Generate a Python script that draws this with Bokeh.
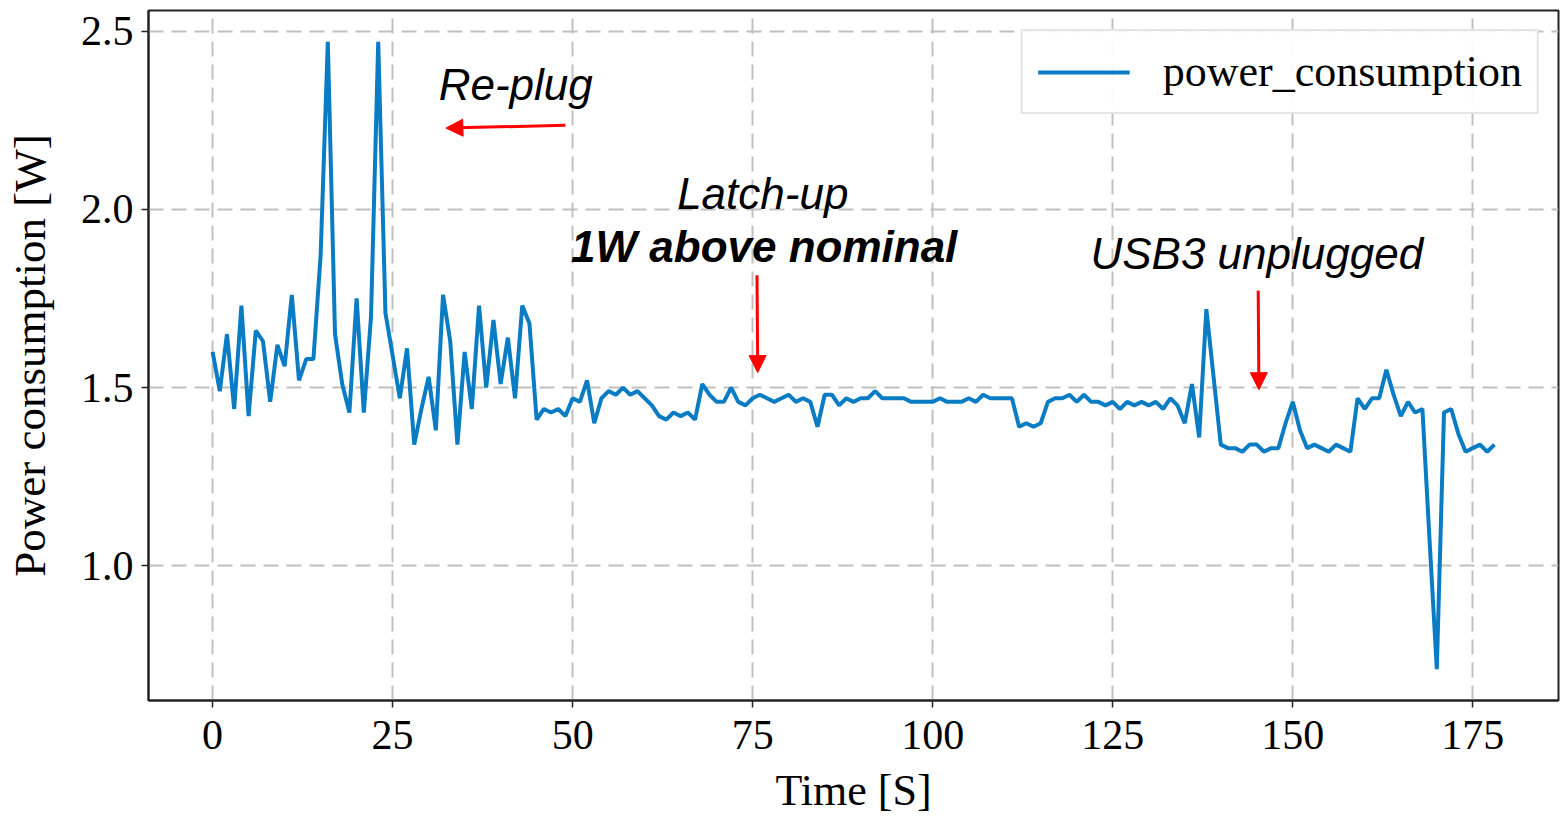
from bokeh.plotting import figure
from bokeh.models import (ColumnDataSource, Legend, LegendItem, Label, Arrow,
                          NormalHead, FixedTicker, NumeralTickFormatter, Range1d)
from bokeh.embed import file_html
from bokeh.resources import INLINE

# ---- data ----
time_s = list(range(179))
power_w = [
    1.60, 1.49, 1.65, 1.44, 1.73, 1.42, 1.66, 1.63, 1.46, 1.62,
    1.56, 1.76, 1.52, 1.58, 1.58, 1.87, 2.47, 1.65, 1.51, 1.43,
    1.75, 1.43, 1.70, 2.47, 1.71, 1.59, 1.47, 1.61, 1.34, 1.44,
    1.53, 1.38, 1.76, 1.63, 1.34, 1.60, 1.44, 1.73, 1.50, 1.69,
    1.51, 1.64, 1.47, 1.73, 1.68, 1.41, 1.44, 1.43, 1.44, 1.42,
    1.47, 1.46, 1.52, 1.40, 1.47, 1.49, 1.48, 1.50, 1.48, 1.49,
    1.47, 1.45, 1.42, 1.41, 1.43, 1.42, 1.43, 1.41, 1.51, 1.48,
    1.46, 1.46, 1.50, 1.46, 1.45, 1.47, 1.48, 1.47, 1.46, 1.47,
    1.48, 1.46, 1.47, 1.46, 1.39, 1.48, 1.48, 1.45, 1.47, 1.46,
    1.47, 1.47, 1.49, 1.47, 1.47, 1.47, 1.47, 1.46, 1.46, 1.46,
    1.46, 1.47, 1.46, 1.46, 1.46, 1.47, 1.46, 1.48, 1.47, 1.47,
    1.47, 1.47, 1.39, 1.40, 1.39, 1.40, 1.46, 1.47, 1.47, 1.48,
    1.46, 1.48, 1.46, 1.46, 1.45, 1.46, 1.44, 1.46, 1.45, 1.46,
    1.45, 1.46, 1.44, 1.47, 1.45, 1.40, 1.51, 1.36, 1.72, 1.53,
    1.34, 1.33, 1.33, 1.32, 1.34, 1.34, 1.32, 1.33, 1.33, 1.40,
    1.46, 1.38, 1.33, 1.34, 1.33, 1.32, 1.34, 1.33, 1.32, 1.47,
    1.44, 1.47, 1.47, 1.55, 1.48, 1.42, 1.46, 1.43, 1.44, 1.07,
    0.71, 1.43, 1.44, 1.37, 1.32, 1.33, 1.34, 1.32, 1.34,
]
x_ticks = [0, 25, 50, 75, 100, 125, 150, 175]
y_ticks = [1.0, 1.5, 2.0, 2.5]
series_name = "power_consumption"

# annotation texts and arrows (x, y in data units)
notes = [
    ("Re-plug", 42.1, 2.35, "italic"),
    ("Latch-up", 76.4, 2.045, "italic"),
    ("1W above nominal", 76.6, 1.896, "bold italic"),
    ("USB3 unplugged", 145.0, 1.876, "italic"),
]
arrows = [
    (49.0, 2.236, 32.4, 2.228),
    (75.6, 1.815, 75.7, 1.542),
    (145.2, 1.772, 145.3, 1.494),
]

SERIF = "Liberation Serif"
SANS = "Liberation Sans"

p = figure(width=1560, height=817, output_backend="svg", toolbar_location=None,
           x_range=Range1d(-8.9, 186.9), y_range=Range1d(0.622, 2.558),
           min_border_left=148, min_border_right=2, min_border_top=10,
           min_border_bottom=117)

p.background_fill_color = "white"
p.border_fill_color = "white"
p.outline_line_color = "#222222"
p.outline_line_width = 2

src = ColumnDataSource(data=dict(t=time_s, w=power_w))
r = p.line("t", "w", source=src, line_color="#0a7cc4", line_width=4)

# grid
for g in (p.xgrid, p.ygrid):
    g.grid_line_color = "#c0c0c0"
    g.grid_line_width = 2
    g.grid_line_dash = "15 8"
p.xgrid.ticker = FixedTicker(ticks=x_ticks)
p.ygrid.ticker = FixedTicker(ticks=y_ticks)

# axes
p.xaxis.ticker = FixedTicker(ticks=x_ticks)
p.yaxis.ticker = FixedTicker(ticks=y_ticks)
p.yaxis.formatter = NumeralTickFormatter(format="0.0")
for ax in (p.xaxis[0], p.yaxis[0]):
    ax.axis_line_color = "#222222"
    ax.axis_line_width = 2
    ax.major_tick_line_color = "#222222"
    ax.major_tick_line_width = 1.5
    ax.major_tick_out = 7
    ax.major_tick_in = 0
    ax.minor_tick_line_color = None
    ax.major_label_text_font = SERIF
    ax.major_label_text_font_size = "42px"
    ax.major_label_text_color = "black"
    ax.axis_label_text_font = SERIF
    ax.axis_label_text_font_style = "normal"
    ax.axis_label_text_color = "black"
p.xaxis.axis_label = "Time [S]"
p.yaxis.axis_label = "Power consumption [W]"
p.xaxis.axis_label_text_font_size = "44px"
p.yaxis.axis_label_text_font_size = "45px"
p.xaxis.major_label_standoff = 13
p.yaxis.major_label_standoff = 8
p.xaxis.axis_label_standoff = 14
p.yaxis.axis_label_standoff = 23

# annotations
for txt, x, y, style in notes:
    p.add_layout(Label(x=x, y=y, text=txt, text_font=SANS, text_font_size="44px",
                       text_font_style=style, text_align="center",
                       text_baseline="middle", text_color="black"))
for xs, ys, xe, ye in arrows:
    p.add_layout(Arrow(x_start=xs, y_start=ys, x_end=xe, y_end=ye,
                       line_color="red", line_width=3,
                       end=NormalHead(size=17, fill_color="red", line_color="red")))

# legend
legend = Legend(items=[LegendItem(label=series_name, renderers=[r])],
                location="top_right", label_text_font=SERIF,
                label_text_color="black",
                label_text_font_size="44px", glyph_width=92, glyph_height=40,
                label_standoff=33, padding=15, margin=19, spacing=0,
                border_line_color="#cccccc", border_line_width=2,
                background_fill_alpha=0.9)
p.add_layout(legend)

open("out.html", "w").write(file_html(p, INLINE))
